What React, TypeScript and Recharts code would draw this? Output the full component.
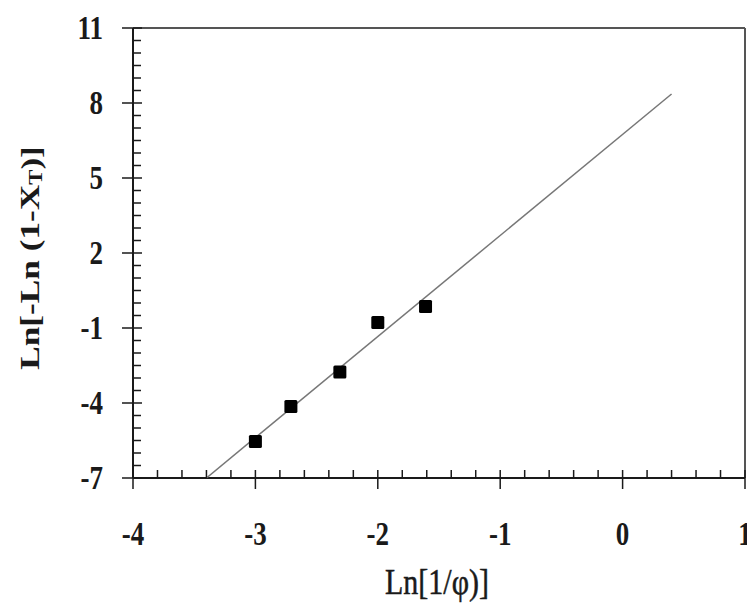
import React from "react";
import { Label, ReferenceLine, Scatter, ScatterChart, XAxis, YAxis } from "recharts";

// measured points: Ln(1/phi) vs Ln[-Ln(1-X_T)]
const lnPhi = [-3.0, -2.71, -2.31, -2.0, -1.61];
const lnLnX = [-5.54, -4.14, -2.76, -0.78, -0.14];

// fitted straight line end points
const fitX = [-3.4, 0.4];
const fitY = [-7, 8.36];

const xMajor = [-4, -3, -2, -1, 0, 1];
const xTicks = [
    -4, -3.8, -3.6, -3.4, -3.2, -3, -2.8, -2.6, -2.4, -2.2, -2, -1.8, -1.6,
    -1.4, -1.2, -1, -0.8, -0.6, -0.4, -0.2, 0, 0.2, 0.4, 0.6, 0.8, 1,
];
const yMajor = [-7, -4, -1, 2, 5, 8, 11];
const yTicks = [
    -7, -6.5, -6, -5.5, -5, -4.5, -4, -3.5, -3, -2.5, -2, -1.5, -1, -0.5, 0,
    0.5, 1, 1.5, 2, 2.5, 3, 3.5, 4, 4.5, 5, 5.5, 6, 6.5, 7, 7.5, 8, 8.5, 9,
    9.5, 10, 10.5, 11,
];

const points = lnPhi.map((x, i) => ({ x, y: lnLnX[i] }));
const fitLine = fitX.map((x, i) => ({ x, y: fitY[i] }));

const FONT = "'Liberation Serif', 'Times New Roman', serif";
const INK = "#1a1a1a";

const isMajor = (list: number[], v: number) => list.some((m) => Math.abs(m - v) < 1e-6);

const YTick = (props: any) => {
    const { x, y, payload } = props;
    const v = payload.value;
    if (!isMajor(yMajor, v)) {
        return <line x1={x} x2={x + 8} y1={y} y2={y} stroke={INK} strokeWidth={1.5} />;
    }
    return (
        <g>
            <line x1={x - 11} x2={x + 9} y1={y} y2={y} stroke={INK} strokeWidth={1.5} />
            <text
                transform={`translate(${x - 30},${y}) scale(1,1.25)`}
                textAnchor="end"
                dominantBaseline="central"
                fontFamily={FONT}
                fontWeight="bold"
                fontSize={27}
                fill={INK}
            >
                {v}
            </text>
        </g>
    );
};

const XTick = (props: any) => {
    const { x, y, payload } = props;
    const v = payload.value;
    if (!isMajor(xMajor, v)) {
        return <line x1={x} x2={x} y1={y - 8} y2={y} stroke={INK} strokeWidth={1.5} />;
    }
    return (
        <g>
            <line x1={x} x2={x} y1={y - 8} y2={y + 11} stroke={INK} strokeWidth={1.5} />
            <text
                transform={`translate(${x},${y + 56}) scale(1,1.25)`}
                textAnchor="middle"
                dominantBaseline="central"
                fontFamily={FONT}
                fontWeight="bold"
                fontSize={27}
                fill={INK}
            >
                {v}
            </text>
        </g>
    );
};

const XTitle = (props: any) => {
    const { viewBox } = props;
    const cx = viewBox.x + viewBox.width / 2;
    return (
        <text
            transform={`translate(${cx - 2},${viewBox.y + 104}) scale(1,1.2)`}
            textAnchor="middle"
            dominantBaseline="central"
            fontFamily={FONT}
            fontSize={30}
            fill={INK}
            stroke={INK}
            strokeWidth={0.4}
        >
            Ln[1/φ)]
        </text>
    );
};

const YTitle = (props: any) => {
    const { viewBox } = props;
    const cy = viewBox.y + viewBox.height / 2 + 5;
    return (
        <text
            transform={`translate(30,${cy}) rotate(-90) scale(1.26,1)`}
            textAnchor="middle"
            dominantBaseline="central"
            fontFamily={FONT}
            fontWeight="bold"
            fontSize={28}
            fill={INK}
        >
            Ln[-Ln (1-X
            <tspan fontSize={18} dy={6}>T</tspan>
            <tspan dy={-6}>)]</tspan>
        </text>
    );
};

const Square = (props: any) => {
    const { cx, cy } = props;
    return <rect x={cx - 6.5} y={cy - 6.5} width={13} height={13} rx={1.5} fill="#000" />;
};

const NoDot = () => <g />;

export default function App() {
    return (
        <div style={{ position: "absolute", left: 0, top: 0, background: "#fff" }}>
            <ScatterChart
                width={747}
                height={604}
                margin={{ top: 28, right: 2, bottom: 0, left: 0 }}
            >
                <XAxis
                    type="number"
                    dataKey="x"
                    domain={[-4, 1]}
                    ticks={xTicks}
                    interval={0}
                    allowDataOverflow
                    height={126}
                    tickSize={0}
                    tickMargin={0}
                    tickLine={false}
                    axisLine={{ stroke: INK, strokeWidth: 2 }}
                    tick={<XTick />}
                    label={<Label content={<XTitle />} />}
                />
                <YAxis
                    type="number"
                    dataKey="y"
                    domain={[-7, 11]}
                    ticks={yTicks}
                    interval={0}
                    allowDataOverflow
                    width={133}
                    tickSize={0}
                    tickMargin={0}
                    tickLine={false}
                    axisLine={{ stroke: INK, strokeWidth: 2 }}
                    tick={<YTick />}
                    label={<Label content={<YTitle />} />}
                />
                <ReferenceLine y={11} stroke="#555" strokeWidth={2} />
                <ReferenceLine x={1} stroke="#555" strokeWidth={2} />
                <Scatter
                    data={fitLine}
                    line={{ stroke: "#777", strokeWidth: 1.5 }}
                    shape={<NoDot />}
                    isAnimationActive={false}
                />
                <Scatter data={points} shape={<Square />} isAnimationActive={false} />
            </ScatterChart>
        </div>
    );
}
